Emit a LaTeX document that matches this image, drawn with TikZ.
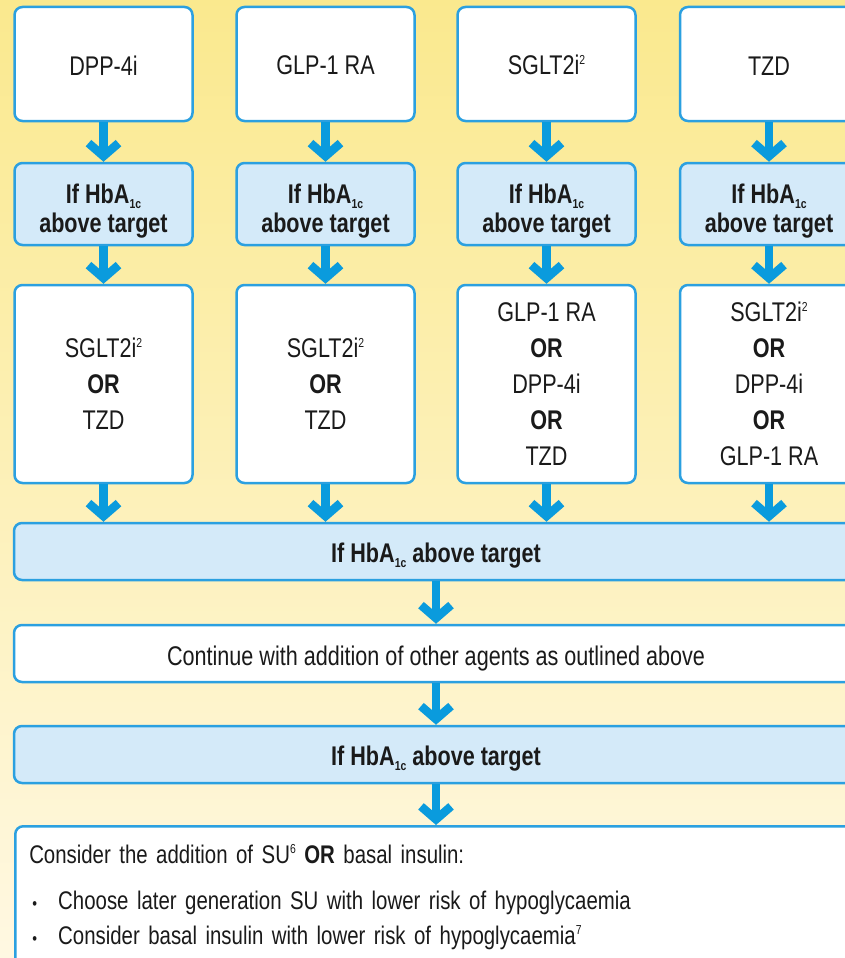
\documentclass[tikz,border=0pt]{standalone}
\usepackage{fontspec}
\setmainfont{Liberation Sans}[FakeStretch=0.8]
\usetikzlibrary{arrows.meta}
\definecolor{bordblue}{HTML}{2BA0E0}
\definecolor{arrblue}{HTML}{0A9BDD}
\definecolor{lightblue}{HTML}{D4EAF9}
\definecolor{bgtop}{HTML}{FAE98E}
\definecolor{bgmid}{HTML}{FDF3C2}
\definecolor{bgbot}{HTML}{FFF8E2}
\definecolor{txt}{HTML}{1A1A1A}
\newcommand{\hbsub}{HbA\raisebox{-5pt}{\fontsize{13}{13}\selectfont 1c}}
\newcommand{\supr}[1]{\raisebox{10pt}{\fontsize{13}{13}\selectfont #1}}
\newcommand{\bul}{\hspace*{3pt}\makebox[26pt][l]{\fontsize{17}{17}\selectfont •}}
\newcommand{\pad}[1]{\rule{0pt}{#1}}
\begin{document}
\begin{tikzpicture}[x=1pt,y=-1pt,
  base/.style={rectangle, rounded corners=8pt, draw=bordblue, line width=2.5pt, align=center, text=txt, inner sep=0pt, font=\fontsize{27}{36}\selectfont},
  whitebox/.style={base, fill=white},
  bluebox/.style={base, fill=lightblue, font=\fontsize{27}{29}\selectfont\bfseries},
  colw/.style={minimum width=178pt},
  widew/.style={minimum width=844pt},
  arr/.style={draw=arrblue, line width=8.5pt, -{Straight Barb[length=13pt,width=30pt]}}
]
\useasboundingbox (0,0) rectangle (845,958);
\shade[top color=bgtop, middle color=bgmid, bottom color=bgbot] (0,0) rectangle (845,958);
\clip (0,0) rectangle (845,958);

% top row
\node[whitebox, colw, minimum height=114pt] (t1) at (103.5,64) {\pad{22pt}DPP-4i};
\node[whitebox, colw, minimum height=114pt] (t2) at (325.5,64) {\pad{22pt}GLP-1 RA};
\node[whitebox, colw, minimum height=114pt] (t3) at (546.5,64) {\pad{22pt}SGLT2i\supr{2}};
\node[whitebox, colw, minimum height=114pt] (t4) at (769,64) {\pad{22pt}TZD};

% HbA1c row
\node[bluebox, colw, minimum height=82pt] (h1) at (103.5,204) {\pad{33pt}If \hbsub\\above target};
\node[bluebox, colw, minimum height=82pt] (h2) at (325.5,204) {\pad{33pt}If \hbsub\\above target};
\node[bluebox, colw, minimum height=82pt] (h3) at (546.5,204) {\pad{33pt}If \hbsub\\above target};
\node[bluebox, colw, minimum height=82pt] (h4) at (769,204) {\pad{33pt}If \hbsub\\above target};

% middle row
\node[whitebox, colw, minimum height=198pt] (m1) at (103.5,384) {SGLT2i\supr{2}\\\textbf{OR}\\TZD};
\node[whitebox, colw, minimum height=198pt] (m2) at (325.5,384) {SGLT2i\supr{2}\\\textbf{OR}\\TZD};
\node[whitebox, colw, minimum height=198pt] (m3) at (546.5,384) {GLP-1 RA\\\textbf{OR}\\DPP-4i\\\textbf{OR}\\TZD};
\node[whitebox, colw, minimum height=198pt] (m4) at (769,384) {SGLT2i\supr{2}\\\textbf{OR}\\DPP-4i\\\textbf{OR}\\GLP-1 RA};

% wide rows
\node[bluebox, widew, minimum height=57pt] (w1) at (436,551.5) {\pad{28.7pt}If \hbsub\ above target};
\node[whitebox, widew, minimum height=57pt] (c1) at (436,653.5) {\pad{28.7pt}Continue with addition of other agents as outlined above};
\node[bluebox, widew, minimum height=57pt] (w2) at (436,754.5) {\pad{28.7pt}If \hbsub\ above target};

\node[whitebox, anchor=north west, align=left, text width=816pt, inner xsep=14pt, inner ysep=0pt, font=\fontsize{25.5}{35}\selectfont] (b1) at (14,825)
{\pad{37pt}Consider the addition of SU\supr{6} \textbf{OR} basal insulin:\\[11pt]
\bul Choose later generation SU with lower risk of hypoglycaemia\\
\bul Consider basal insulin with lower risk of hypoglycaemia\supr{7}\rule[-80pt]{0pt}{0pt}};

% arrows
\foreach \i in {1,2,3,4} {
  \draw[arr] (t\i.south) -- (h\i.north);
  \draw[arr] (h\i.south) -- (m\i.north);
  \draw[arr] (m\i.south) -- (m\i.south |- w1.north);
}
\draw[arr] (w1.south) -- (c1.north);
\draw[arr] (c1.south) -- (w2.north);
\draw[arr] (w2.south) -- (w2.south |- b1.north);
\end{tikzpicture}
\end{document}
